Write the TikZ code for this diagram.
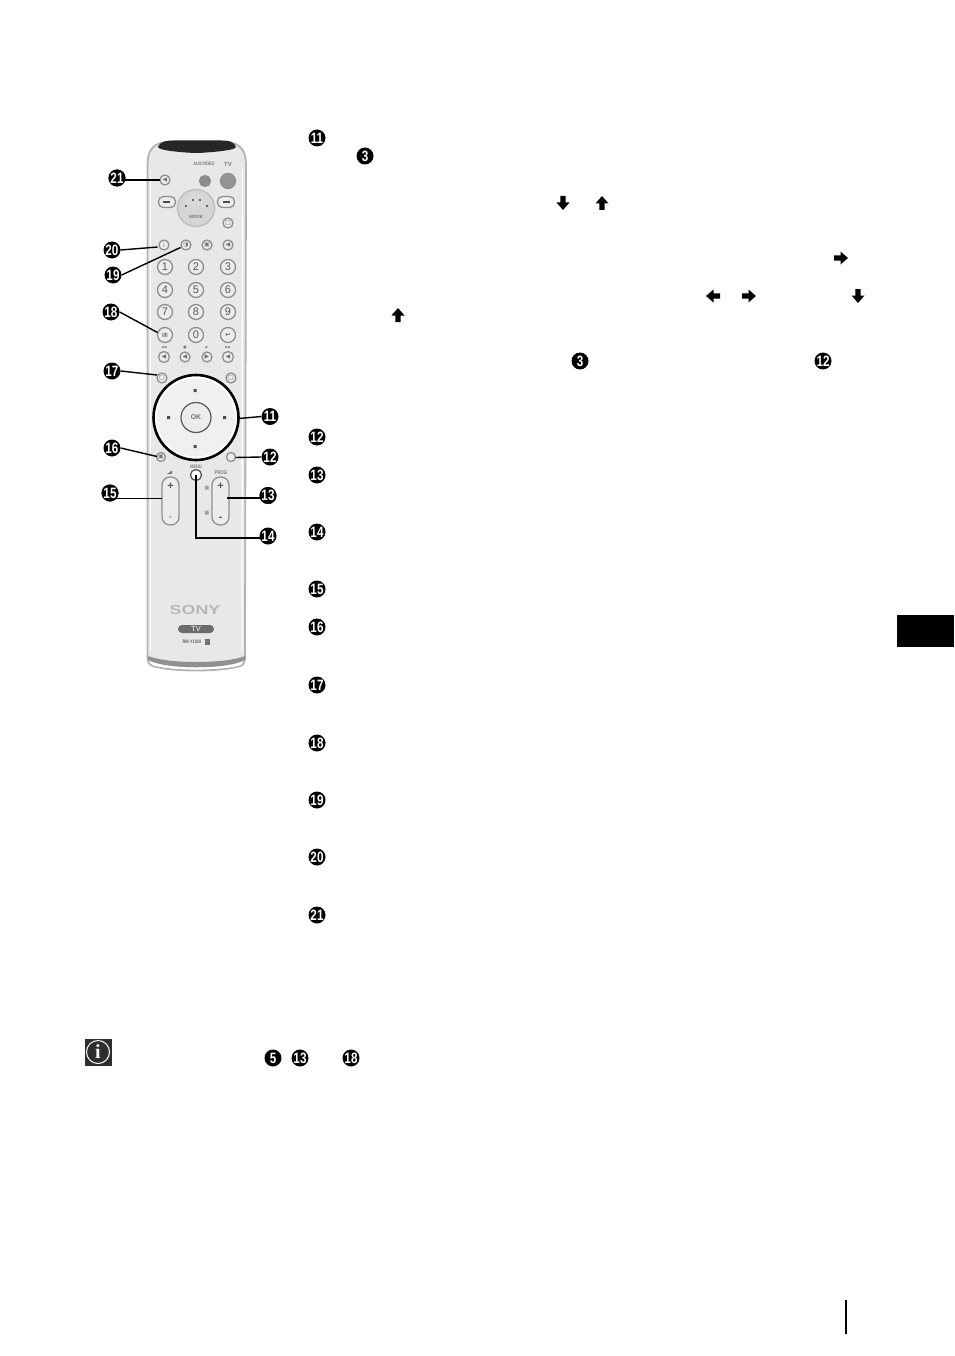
\documentclass[tikz,border=0pt]{standalone}
\usepackage{graphicx}
\usepackage{fontspec}
\setmainfont{Liberation Sans}
\newfontfamily\serifi{Liberation Serif}
\newfontfamily\symf{DejaVu Sans}
\usetikzlibrary{calc}
\definecolor{rim}{HTML}{B4B4B4}
\definecolor{bodyc}{HTML}{E8E8E8}
\definecolor{keyc}{HTML}{ECECEC}
\definecolor{keyl}{HTML}{8F8F8F}
\definecolor{printc}{HTML}{7C7C7C}
\definecolor{tabc}{HTML}{2E2E2E}
\newcommand{\cn}[1]{\scalebox{.78}[1]{#1}}
\tikzset{
  x=1pt,y=-1pt,
  callout/.style={circle,fill=black,text=white,inner sep=0pt,minimum size=17pt,font=\bfseries\fontsize{15}{15}\selectfont},
  key/.style={circle,draw=keyl,line width=1.3pt,fill=keyc,inner sep=0pt,minimum size=#1,text=black!55,font=\symf\fontsize{6}{6}\selectfont},
  key/.default=10pt,
  digit/.style={key=15pt,font=\fontsize{11}{11}\selectfont,text=black!65},
  pillkey/.style={draw=keyl,fill=keyc,line width=1.3pt,inner sep=0pt},
  lead/.style={draw=black,line width=1.4pt},
  printed/.style={text=printc,inner sep=0pt,font=\bfseries\fontsize{#1}{#1}\selectfont},
  printed/.default=5,
  symprint/.style={text=printc,inner sep=0pt,font=\symf\fontsize{#1}{#1}\selectfont},
  blockarrow/.style={fill=black,draw=none},
}
\newcommand{\uparrowmark}[2]{\fill[blockarrow] ($(#1,#2)+(-2.7,7)$)--++(0,-6.5)--++(-3.8,0)--++(6.5,-7.5)--++(6.5,7.5)--++(-3.8,0)--++(0,6.5)--cycle;}
\newcommand{\downarrowmark}[2]{\fill[blockarrow] ($(#1,#2)+(-2.7,-7)$)--++(0,6.5)--++(-3.8,0)--++(6.5,7.5)--++(6.5,-7.5)--++(-3.8,0)--++(0,-6.5)--cycle;}
\newcommand{\rightarrowmark}[2]{\fill[blockarrow] ($(#1,#2)+(-7,-2.7)$)--++(6.5,0)--++(0,-3.8)--++(7.5,6.5)--++(-7.5,6.5)--++(0,-3.8)--++(-6.5,0)--cycle;}
\newcommand{\leftarrowmark}[2]{\fill[blockarrow] ($(#1,#2)+(7,-2.7)$)--++(-6.5,0)--++(0,-3.8)--++(-7.5,6.5)--++(7.5,6.5)--++(0,-3.8)--++(6.5,0)--cycle;}
\begin{document}
\begin{tikzpicture}
\useasboundingbox (0,0) rectangle (954,1356);
\fill[white] (0,0) rectangle (954,1356);
% remote body
\path[fill=bodyc,draw=rim,line width=1.8pt] (147.5,165) .. controls (147.5,150) and (153,142) .. (170,142)
  -- (224,142) .. controls (240,142) and (246,150) .. (246,165)
  -- (245,655) .. controls (245,663) and (244,665) .. (240,666)
  .. controls (222,672) and (170,672) .. (153,666)
  .. controls (149,665) and (147.5,663) .. (147.5,655) -- cycle;
\fill[rim!80!black] (148,656) .. controls (168,664) and (225,664) .. (245,656) -- (245,660) .. controls (225,670) and (168,670) .. (148,660) -- cycle;
\fill[white] (150,661.5) .. controls (170,669.5) and (224,669.5) .. (243,661.5) .. controls (242,664) and (241,665) .. (239,665.5) .. controls (222,670.5) and (170,670.5) .. (154,665.5) .. controls (152,665) and (151,664) .. (150,661.5) -- cycle;
\draw[white,line width=1.2pt] (150.5,170) -- (150.5,650);
\draw[white,line width=1.2pt] (242.5,170) -- (242,650);
\fill[black!85] (158,147) .. controls (160,142) and (165,140.5) .. (172,140.5) -- (222,140.5) .. controls (230,140.5) and (234,142) .. (236,147) .. controls (236,151) and (200,153) .. (197,153) .. controls (190,153) and (158,151) .. (158,147) -- cycle;
% top row
\node[key=10pt] (b21) at (165,180) {◀};
\node[key=11pt,fill=black!45] (baux) at (205,181) {};
\node[key=15pt,fill=black!42] (btv) at (228,181) {};
\node[printed=5] (laux) at (204,164) {\cn{AUX/VIDEO}};
\node[printed=6] (ltv) at (228,164) {TV};
\node[pillkey,rounded corners=5pt,minimum width=17pt,minimum height=11pt] (pl) at (167,202) {};
\node[pillkey,rounded corners=5pt,minimum width=17pt,minimum height=11pt] (pr) at (226,202) {};
\fill[black!70] (163,201) rectangle (170,203);
\fill[black!70] (223,201) rectangle (230,203);
\node[circle,fill=black!16,draw=black!25,line width=1.4pt,minimum size=37pt,inner sep=0pt] (mode) at (196,208) {};
\fill[white!85!black] (184,200) .. controls (190,193) and (202,193) .. (208,200) -- (204,208) .. controls (200,205) and (192,205) .. (188,208) -- cycle;
\node[printed=4.5,text=black!55] at (196,217) {MODE};
\fill[black!75] (186,206) circle (1.1pt) (193,200) circle (1.1pt) (200,200) circle (1.1pt) (207,206) circle (1.1pt);
\node[key=10pt] (btop) at (228,223) {□};
% row 244
\node[key=10pt] (b20) at (164,245) {i};
\node[key=10pt] (b19) at (186,245) {◑};
\node[key=10pt] (b3) at (207,245) {▣};
\node[key=10pt] (b4) at (228,245) {◀};
% digits
\node[digit] (d1) at (165,267) {1};
\node[digit] (d2) at (196,267) {2};
\node[digit] (d3) at (228,267) {3};
\node[digit] (d4) at (165,290) {4};
\node[digit] (d5) at (196,290) {5};
\node[digit] (d6) at (228,290) {6};
\node[digit] (d7) at (165,312) {7};
\node[digit] (d8) at (196,312) {8};
\node[digit] (d9) at (228,312) {9};
\node[digit,font=\bfseries\fontsize{6}{6}\selectfont] (d10) at (165,335) {\cn{I/II}};
\node[digit] (d0) at (196,335) {0};
\node[digit,font=\symf\fontsize{8}{8}\selectfont] (dr) at (228,335) {\cn{↩}};
% transport
\node[key=11pt] (t1) at (164,357) {◀};
\node[key=10pt] (t2) at (185,357) {◀};
\node[key=10pt] (t3) at (207,357) {▶};
\node[key=11pt] (t4) at (228,357) {◀};
\node[symprint=3.5] at (164,348) {◀◀};
\node[symprint=3.5] at (185,348) {■};
\node[symprint=3.5] at (207,348) {▶};
\node[symprint=3.5] at (228,348) {▶▶};
\node[key=10pt] (b17) at (162,378) {□};
\node[key=10pt] (b17r) at (231,378) {□};
% wheel
\node[circle,draw=black,line width=2.6pt,fill=white,minimum size=85pt,inner sep=0pt] (wheel) at (196,417.5) {};
\fill[black!6] (196,417.5) circle (39pt);
\node[circle,draw=black!65,line width=1.2pt,fill=keyc,minimum size=30pt,inner sep=0pt,text=black!55,font=\bfseries\fontsize{7}{7}\selectfont] (ok) at (196,417.5) {OK};
\fill[black!70] (195,389) ++(-1.5,0) rectangle ++(3,3) (195,445) ++(-1.5,0) rectangle ++(3,3) (167,416) rectangle ++(3,3) (223,416) rectangle ++(3,3);
% lower buttons
\node[key=9pt] (b16) at (161,457) {▣};
\node[key=9pt] (b12) at (231,457) {};
\node[key=11pt,fill=white,draw=black!65] (bmenu) at (196,475) {};
\node[printed=5] (lmenu) at (196,467) {\cn{MENU}};
\node[printed=5.5] (lprog) at (221,472.5) {\cn{PROG}};
\fill[printc] (167,474) -- (172,470.5) -- (172,474) -- cycle;
\node[pillkey,rounded corners=8pt,minimum width=17pt,minimum height=48pt] (vol) at (170.5,501) {};
\node[pillkey,rounded corners=8pt,minimum width=17pt,minimum height=48pt] (prog) at (220.5,501) {};
\node[text=black!65,inner sep=0pt,font=\bfseries\fontsize{11}{11}\selectfont] at (170.5,486) {+};
\node[text=black!65,inner sep=0pt,font=\bfseries\fontsize{11}{11}\selectfont] at (220.5,486) {+};
\node[text=black!55,inner sep=0pt,font=\bfseries\fontsize{8}{8}\selectfont] at (170.5,518) {-};
\node[text=black!75,inner sep=0pt,font=\bfseries\fontsize{10}{10}\selectfont] at (220.5,519) {-};
\node[symprint=5] at (207,488) {▦};
\node[symprint=5] at (207,513) {▦};
% brand
\node[text=black!28,inner sep=0pt,font=\bfseries\fontsize{13}{13}\selectfont] (sony) at (195,610) {\scalebox{1.38}[1]{SONY}};
\node[fill=black!58,rounded corners=4pt,minimum width=36pt,minimum height=8pt,inner sep=0pt,text=white,font=\fontsize{7.5}{7.5}\selectfont] (tvpill) at (196,629) {TV};
\node[printed,text=black!60] (rm) at (192,642) {\cn{RM-Y1010}};
\fill[black!55] (205,639) rectangle (210,644.5);
% lead ends
\coordinate (e21) at (160,180);
\coordinate (e20) at (157.5,247);
\coordinate (e19) at (180.5,247.5);
\coordinate (e18) at (157.5,332.5);
\coordinate (e17) at (157,375);
\coordinate (e16) at (157,456.5);
\coordinate (e15) at (162,498.5);
\coordinate (e11) at (239,418.5);
\coordinate (e12) at (235.5,457.5);
\coordinate (e13) at (227,498);
% callouts beside the remote
\node[callout] (c21) at (117,178) {\cn{21}};
\node[callout] (c20) at (112,250) {\cn{20}};
\node[callout] (c19) at (113,275) {\cn{19}};
\node[callout] (c18) at (111,312) {\cn{18}};
\node[callout] (c17) at (112,371) {\cn{17}};
\node[callout] (c16) at (112,448) {\cn{16}};
\node[callout] (c15) at (110,493) {\cn{15}};
\node[callout] (c11) at (270,416.5) {\cn{11}};
\node[callout] (c12) at (270,457) {\cn{12}};
\node[callout] (c13) at (268,495.5) {\cn{13}};
\node[callout] (c14) at (268,536) {\cn{14}};
\begin{scope}[on background layer/.style={}]
\draw[lead] (c21 |- e21) -- (e21);
\draw[lead] (c20.east) -- (e20);
\draw[lead] (c19.east) -- (e19);
\draw[lead] (c18.east) -- (e18);
\draw[lead] (c17.east) -- (e17);
\draw[lead] (c16.east) -- (e16);
\draw[lead] (c15 |- e15) -- (e15);
\draw[lead] (c11.west) -- (e11);
\draw[lead] (c12.west) -- (e12);
\draw[lead] (c13 |- e13) -- (e13);
\coordinate (k14) at (262,538);
\draw[lead] (bmenu.center) |- (k14);
\end{scope}
% callouts redrawn over their leads
\node[callout] at (c21) {\cn{21}};
\node[callout] at (c15) {\cn{15}};
\node[callout] at (c13) {\cn{13}};
% callouts in the column
\node[callout] (r11) at (317,138) {\cn{11}};
\node[callout] (r3a) at (365,156) {\cn{3}};
\node[callout] (r3b) at (580,361) {\cn{3}};
\node[callout] (r12a) at (823,361) {\cn{12}};
\node[callout] (r12) at (317,437) {\cn{12}};
\node[callout] (r13) at (317,475) {\cn{13}};
\node[callout] (r14) at (317,532) {\cn{14}};
\node[callout] (r15) at (317,589) {\cn{15}};
\node[callout] (r16) at (317,627) {\cn{16}};
\node[callout] (r17) at (317,685) {\cn{17}};
\node[callout] (r18) at (317,743) {\cn{18}};
\node[callout] (r19) at (317,800) {\cn{19}};
\node[callout] (r20) at (317,857) {\cn{20}};
\node[callout] (r21) at (317,915) {\cn{21}};
\node[callout] (n5) at (273,1058) {\cn{5}};
\node[callout] (n13) at (300,1058) {\cn{13}};
\node[callout] (n18) at (351,1058) {\cn{18}};
% block arrows
\downarrowmark{563}{203}
\uparrowmark{602}{203}
\rightarrowmark{841}{258}
\leftarrowmark{713}{296}
\rightarrowmark{749}{296}
\downarrowmark{858}{296}
\uparrowmark{398}{315}
% info icon
\node[fill=tabc,minimum size=27pt,inner sep=0pt] (info) at (98,1052) {};
\node[circle,draw=white,line width=1pt,minimum size=23pt,inner sep=0pt,text=white,font=\serifi\bfseries\fontsize{20}{20}\selectfont] (infoi) at (98,1052) {i};
% page tab and rule
\fill[black] (897,615) rectangle (954,647);
\draw[black,line width=1.5pt] (846,1300) -- (846,1334);
\end{tikzpicture}
\end{document}
